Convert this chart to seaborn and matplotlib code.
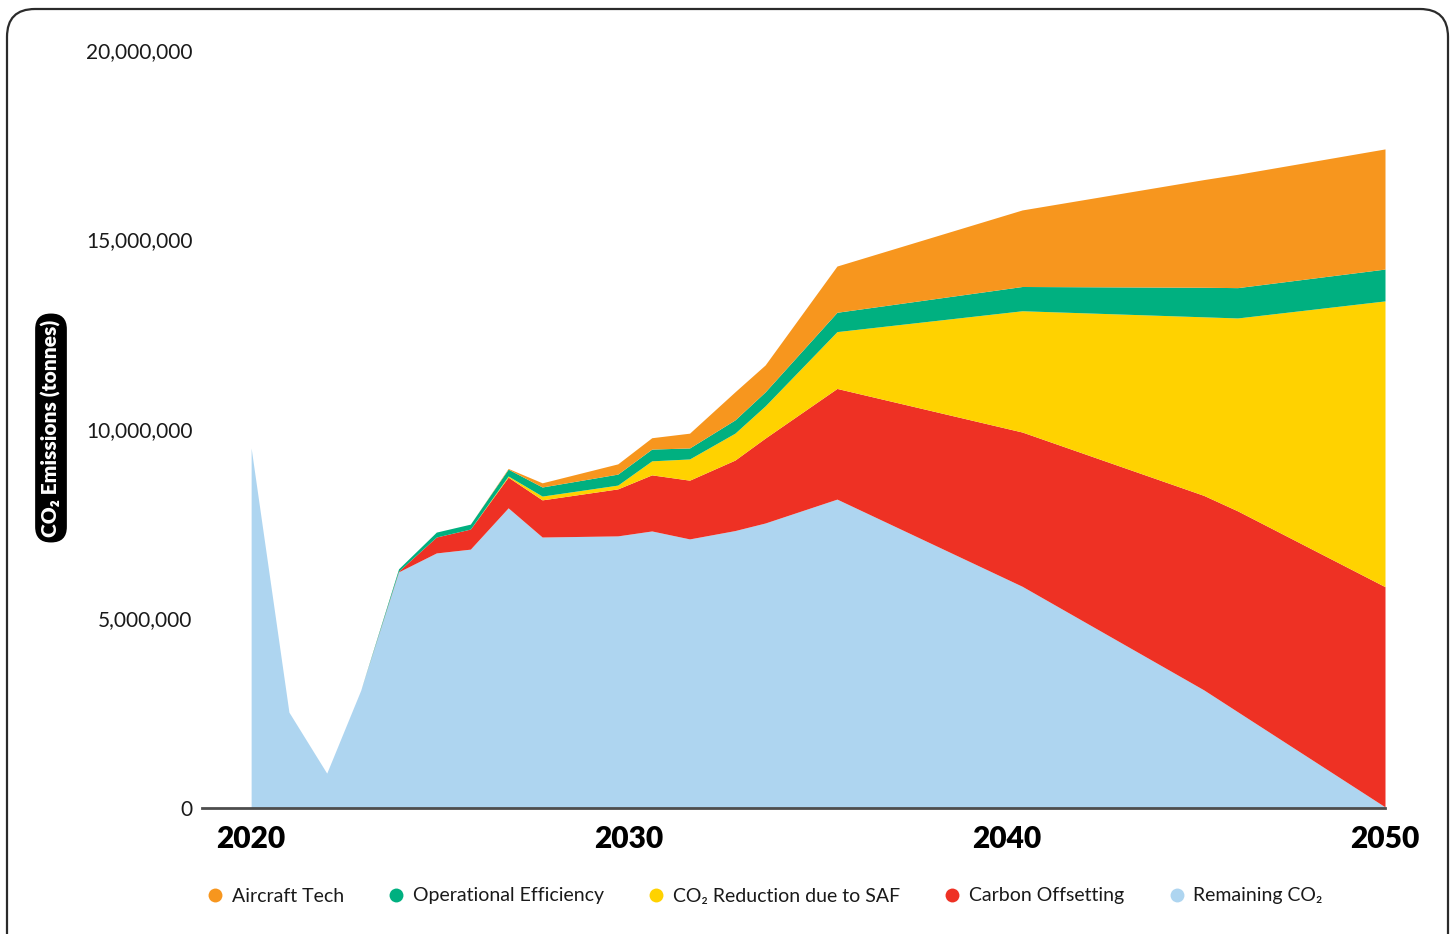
import numpy as np
import matplotlib
matplotlib.use("Agg")
import matplotlib.pyplot as plt
from matplotlib.patches import FancyBboxPatch
from matplotlib.lines import Line2D
from matplotlib.ticker import FuncFormatter, FixedLocator
from matplotlib.transforms import IdentityTransform
import seaborn as sns

# Projection years (sample points of the pathway)
years = [2020.0, 2021.0, 2022.0, 2022.9, 2023.9, 2024.9, 2025.8, 2026.8, 2027.7,
         2029.7, 2030.6, 2031.6, 2032.8, 2033.6, 2035.5, 2040.4, 2045.2, 2046.1, 2050.0]

# Emissions by component, millions of tonnes (stacked bottom to top)
remaining_co2 = [9.50, 2.53, 0.92, 3.11, 6.23, 6.73, 6.83, 7.92, 7.15,
                 7.18, 7.31, 7.10, 7.32, 7.52, 8.15, 5.85, 3.12, 2.54, 0.03]
carbon_offsetting = [0.00, 0.00, 0.00, 0.00, 0.02, 0.42, 0.53, 0.81, 0.98,
                     1.24, 1.48, 1.55, 1.86, 2.24, 2.92, 4.07, 5.13, 5.30, 5.81]
saf_reduction = [0.00, 0.00, 0.00, 0.00, 0.00, 0.00, 0.00, 0.03, 0.10,
                 0.10, 0.37, 0.56, 0.71, 0.85, 1.50, 3.20, 4.71, 5.09, 7.54]
operational_efficiency = [0.00, 0.00, 0.00, 0.00, 0.06, 0.13, 0.13, 0.18, 0.24,
                          0.29, 0.31, 0.29, 0.35, 0.37, 0.51, 0.64, 0.78, 0.80, 0.84]
aircraft_tech = [0.00, 0.00, 0.00, 0.00, 0.00, 0.00, 0.00, 0.02, 0.11,
                 0.27, 0.30, 0.39, 0.74, 0.71, 1.22, 2.02, 2.84, 2.99, 3.17]

legend_labels = ["Aircraft Tech", "Operational Efficiency", "CO₂ Reduction due to SAF",
                 "Carbon Offsetting", "Remaining CO₂"]
year_ticks = [2020, 2030, 2040, 2050]
emission_ticks = [0, 5_000_000, 10_000_000, 15_000_000, 20_000_000]

colors = {
    "Aircraft Tech": "#F7961E",
    "Operational Efficiency": "#00B080",
    "CO₂ Reduction due to SAF": "#FFD200",
    "Carbon Offsetting": "#EE3124",
    "Remaining CO₂": "#AED5F0",
}

sns.set_theme(style="white")
plt.rcParams["font.family"] = ["Lato", "DejaVu Sans"]
text_color = "#1a1a1a"

W, H = 1456, 934
fig = plt.figure(figsize=(W / 100, H / 100), dpi=100)
fig.patch.set_facecolor("white")

# Rounded frame around the whole graphic
frame = FancyBboxPatch((7, -30), 1441, H - 9 + 30,
                       boxstyle="round,pad=0,rounding_size=28",
                       transform=IdentityTransform(), fill=False,
                       edgecolor="#2b2b2b", linewidth=1.6)
fig.patches.append(frame)

ax = fig.add_axes([202 / W, (H - 808) / H, (1385 - 202) / W, (808 - 50) / H])

stack_order = ["Remaining CO₂", "Carbon Offsetting", "CO₂ Reduction due to SAF",
               "Operational Efficiency", "Aircraft Tech"]
series = [remaining_co2, carbon_offsetting, saf_reduction, operational_efficiency, aircraft_tech]
x = np.array(years)
ys = [np.array(s) * 1e6 for s in series]
ax.stackplot(x, *ys, colors=[colors[k] for k in stack_order], linewidth=0)

ax.set_xlim(2018.7, 2050)
ax.set_ylim(0, 20_000_000)

ax.xaxis.set_major_locator(FixedLocator(year_ticks))
ax.yaxis.set_major_locator(FixedLocator(emission_ticks))
ax.yaxis.set_major_formatter(FuncFormatter(lambda v, p: f"{int(v):,}"))
ax.tick_params(axis="y", length=0, pad=7, labelsize=15, labelcolor=text_color)
ax.tick_params(axis="x", length=0, pad=12, labelsize=21.5, labelcolor="black")
for lab in ax.get_xticklabels():
    lab.set_fontweight("heavy")

sns.despine(ax=ax, left=True, top=True, right=True)
ax.spines["bottom"].set_color("#4d4d4d")
ax.spines["bottom"].set_linewidth(2)
ax.grid(False)
ax.set_facecolor("white")

# Axis title in a black pill
fig.text(51 / W, 1 - 428 / H, "CO₂ Emissions (tonnes)", rotation=90,
         ha="center", va="center", color="white", fontsize=15, fontweight="heavy",
         bbox=dict(boxstyle="round,pad=0.28,rounding_size=0.75", fc="black", ec="none"))

handles = [Line2D([], [], marker="o", linestyle="none", markersize=10,
                  markerfacecolor=colors[k], markeredgewidth=0) for k in legend_labels]
leg = fig.legend(handles, legend_labels, loc="center", bbox_to_anchor=(764 / W, 1 - 896 / H),
                 ncol=5, frameon=False, fontsize=14, handletextpad=0.35,
                 columnspacing=2.2, handlelength=1.0)
for t in leg.get_texts():
    t.set_color(text_color)

fig.savefig("out.png", dpi=100, facecolor="white")
